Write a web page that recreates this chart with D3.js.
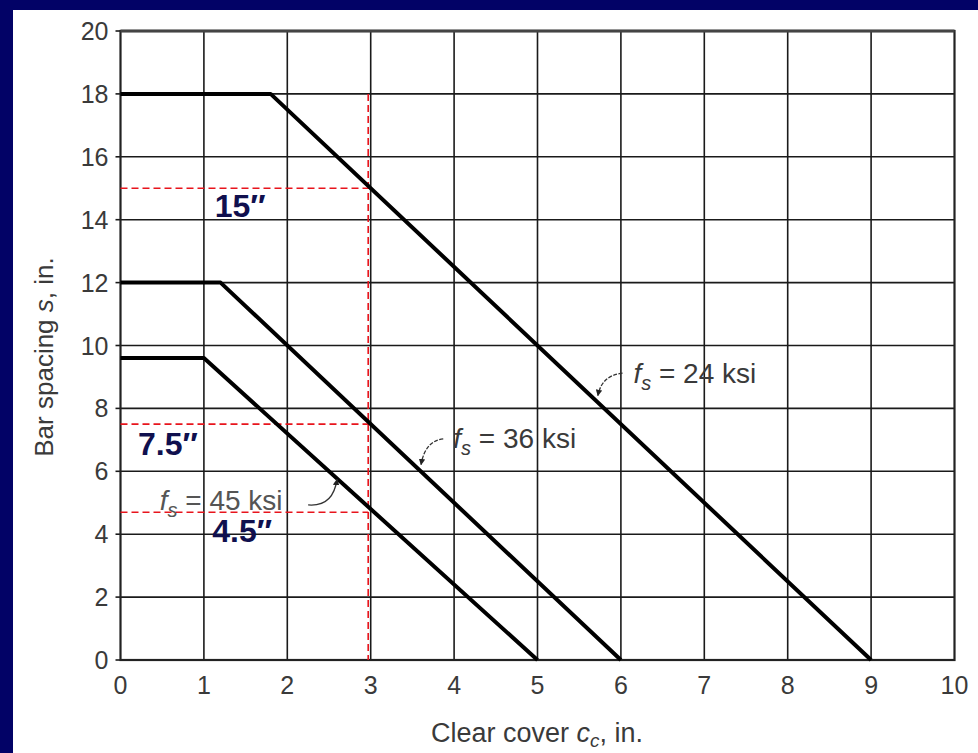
<!DOCTYPE html>
<html>
<head>
<meta charset="utf-8">
<script src="https://cdn.jsdelivr.net/npm/d3@7"></script>
<style>
  html, body { margin: 0; padding: 0; background: #020266; }
  svg { display: block; }
</style>
</head>
<body>
<svg id="chart"></svg>
<script>
// Axis ticks
const xTicks = [0, 1, 2, 3, 4, 5, 6, 7, 8, 9, 10];
const yTicks = [0, 2, 4, 6, 8, 10, 12, 14, 16, 18, 20];

// Curves: clear cover (x) vs bar spacing (y)
const fs24X = [0, 1.8, 9];
const fs24Y = [18, 18, 0];
const fs36X = [0, 1.2, 6];
const fs36Y = [12, 12, 0];
const fs45X = [0, 1.0, 5];
const fs45Y = [9.6, 9.6, 0];

// Red guide lines at cc = 3 in.
const guideX = 2.97;
const guideTop = 18;
const guideY = [15, 7.5, 4.7];
const guideLabels = ["15″", "7.5″", "4.5″"];

// Curve names
const curveNames = ["24", "36", "45"];

const width = 978;
const height = 753;

const svg = d3.select("#chart")
    .attr("width", width)
    .attr("height", height);

// navy frame + white panel
svg.append("rect")
    .attr("x", 0).attr("y", 0)
    .attr("width", width).attr("height", height)
    .attr("fill", "#020266");
svg.append("rect")
    .attr("x", 13).attr("y", 10)
    .attr("width", width - 13).attr("height", height - 10)
    .attr("fill", "#ffffff");

const x = d3.scaleLinear().domain([0, 10]).range([120.5, 954.5]);
const y = d3.scaleLinear().domain([0, 20]).range([660, 31]);

const font = "'Liberation Sans', Arial, Helvetica, sans-serif";

// grid lines
svg.append("g")
    .selectAll("line")
    .data(xTicks.slice(1, -1))
    .enter()
    .append("line")
    .attr("x1", d => x(d)).attr("x2", d => x(d))
    .attr("y1", y(0)).attr("y2", y(20))
    .attr("stroke", "#1a1a1a")
    .attr("stroke-width", 1.6);

svg.append("g")
    .selectAll("line")
    .data(yTicks.slice(1, -1))
    .enter()
    .append("line")
    .attr("x1", x(0)).attr("x2", x(10))
    .attr("y1", d => y(d)).attr("y2", d => y(d))
    .attr("stroke", "#1a1a1a")
    .attr("stroke-width", 1.6);

// left ticks
svg.append("g")
    .selectAll("line")
    .data(yTicks)
    .enter()
    .append("line")
    .attr("x1", x(0) - 5).attr("x2", x(0))
    .attr("y1", d => y(d)).attr("y2", d => y(d))
    .attr("stroke", "#1a1a1a")
    .attr("stroke-width", 1.6);

// plot frame
svg.append("rect")
    .attr("x", x(0)).attr("y", y(20))
    .attr("width", x(10) - x(0)).attr("height", y(0) - y(20))
    .attr("fill", "none")
    .attr("stroke", "#222")
    .attr("stroke-width", 2.2);
svg.append("line")
    .attr("x1", x(0)).attr("x2", x(10))
    .attr("y1", y(20)).attr("y2", y(20))
    .attr("stroke", "#444")
    .attr("stroke-width", 3);

// tick labels
svg.append("g")
    .selectAll("text")
    .data(yTicks)
    .enter()
    .append("text")
    .attr("x", x(0) - 12)
    .attr("y", d => y(d))
    .attr("dy", "0.36em")
    .attr("text-anchor", "end")
    .attr("font-family", font)
    .attr("font-size", "25px")
    .attr("fill", "#3a3a3a")
    .text(d => d);

svg.append("g")
    .selectAll("text")
    .data(xTicks)
    .enter()
    .append("text")
    .attr("x", d => x(d))
    .attr("y", y(0) + 34)
    .attr("text-anchor", "middle")
    .attr("font-family", font)
    .attr("font-size", "25px")
    .attr("fill", "#3a3a3a")
    .text(d => d);

// axis titles
const xTitle = svg.append("text")
    .attr("x", 537)
    .attr("y", 742)
    .attr("text-anchor", "middle")
    .attr("font-family", font)
    .attr("font-size", "27px")
    .attr("fill", "#3a3a3a");
xTitle.append("tspan").text("Clear cover ");
xTitle.append("tspan").attr("font-style", "italic").text("c");
xTitle.append("tspan").attr("font-style", "italic").attr("font-size", "19px").attr("dy", 5).text("c");
xTitle.append("tspan").attr("dy", -5).text(", in.");

const yTitle = svg.append("text")
    .attr("transform", "translate(53,357) rotate(-90)")
    .attr("text-anchor", "middle")
    .attr("font-family", font)
    .attr("font-size", "26px")
    .attr("fill", "#3a3a3a");
yTitle.append("tspan").text("Bar spacing ");
yTitle.append("tspan").attr("font-style", "italic").text("s");
yTitle.append("tspan").text(", in.");

// red guide lines
const red = "#e8141c";
svg.append("line")
    .attr("x1", x(guideX)).attr("x2", x(guideX))
    .attr("y1", y(guideTop)).attr("y2", y(0))
    .attr("stroke", red)
    .attr("stroke-width", 1.6)
    .attr("stroke-dasharray", "7,4");

svg.append("g")
    .selectAll("line")
    .data(guideY)
    .enter()
    .append("line")
    .attr("x1", x(0)).attr("x2", x(guideX))
    .attr("y1", d => y(d)).attr("y2", d => y(d))
    .attr("stroke", red)
    .attr("stroke-width", 1.6)
    .attr("stroke-dasharray", "7,4");

// curves
const line = d3.line().x(d => x(d[0])).y(d => y(d[1]));
const curves = [
    d3.zip(fs24X, fs24Y),
    d3.zip(fs36X, fs36Y),
    d3.zip(fs45X, fs45Y)
];
svg.append("g")
    .selectAll("path")
    .data(curves)
    .enter()
    .append("path")
    .attr("d", line)
    .attr("fill", "none")
    .attr("stroke", "#000")
    .attr("stroke-width", 4)
    .attr("stroke-linejoin", "round");

// value on a curve at cover cx
function onCurve(xs, ys, cx) {
    return d3.scaleLinear().domain(xs.slice(1)).range(ys.slice(1))(cx);
}

// curve labels with small arrows (label spot, arrow start, arrow tip along the curve)
const curveNotes = [
    { name: curveNames[0], tx: 6.15, ty: 8.8, sx: 6.02, sy: 9.12, cx: 5.7, xs: fs24X, ys: fs24Y },
    { name: curveNames[1], tx: 3.99, ty: 6.74, sx: 3.87, sy: 7.03, cx: 3.58, xs: fs36X, ys: fs36Y },
    { name: curveNames[2], tx: 0.47, ty: 4.76, sx: 2.25, sy: 4.93, cx: 2.62, xs: fs45X, ys: fs45Y }
];

const defs = svg.append("defs");
defs.append("marker")
    .attr("id", "head")
    .attr("viewBox", "0 0 10 10")
    .attr("refX", 9).attr("refY", 5)
    .attr("markerWidth", 5).attr("markerHeight", 5)
    .attr("orient", "auto")
    .append("path")
    .attr("d", "M0,0 L10,5 L0,10 Z")
    .attr("fill", "#222");

curveNotes.forEach((n, i) => {
    const tipX = x(n.cx);
    const tipY = y(onCurve(n.xs, n.ys, n.cx)) - 3;
    const sx = x(n.sx), sy = y(n.sy);
    const p = d3.path();
    p.moveTo(sx, sy);
    if (i === 2) {
        p.quadraticCurveTo(tipX - 6, sy + 2, tipX - 2, tipY + 2);
    } else {
        p.quadraticCurveTo(tipX + 6, sy + 2, tipX + 2, tipY - 2);
    }
    svg.append("path")
        .attr("d", p.toString())
        .attr("fill", "none")
        .attr("stroke", "#333")
        .attr("stroke-width", 1.3)
        .attr("stroke-dasharray", i === 2 ? null : "4,1.5")
        .attr("marker-end", "url(#head)");

    const t = svg.append("text")
        .attr("x", x(n.tx))
        .attr("y", y(n.ty))
        .attr("font-family", font)
        .attr("font-size", "28px")
        .attr("fill", i === 2 ? "#555" : "#3a3a3a");
    t.append("tspan").attr("font-style", "italic").text("f");
    t.append("tspan").attr("font-style", "italic").attr("font-size", "20px").attr("dy", 7).text("s");
    t.append("tspan").attr("dy", -7).text(" = " + n.name + " ksi");
});

// bold guide value labels
const guideLabelSpots = [
    { gx: 1.13, gy: 14.09 },
    { gx: 0.21, gy: 6.52 },
    { gx: 1.1, gy: 3.75 }
];
svg.append("g")
    .selectAll("text")
    .data(guideLabels)
    .enter()
    .append("text")
    .attr("x", (d, i) => x(guideLabelSpots[i].gx))
    .attr("y", (d, i) => y(guideLabelSpots[i].gy))
    .attr("font-family", font)
    .attr("font-size", "32px")
    .attr("font-weight", "bold")
    .attr("fill", "#10104e")
    .text(d => d);
</script>
</body>
</html>
